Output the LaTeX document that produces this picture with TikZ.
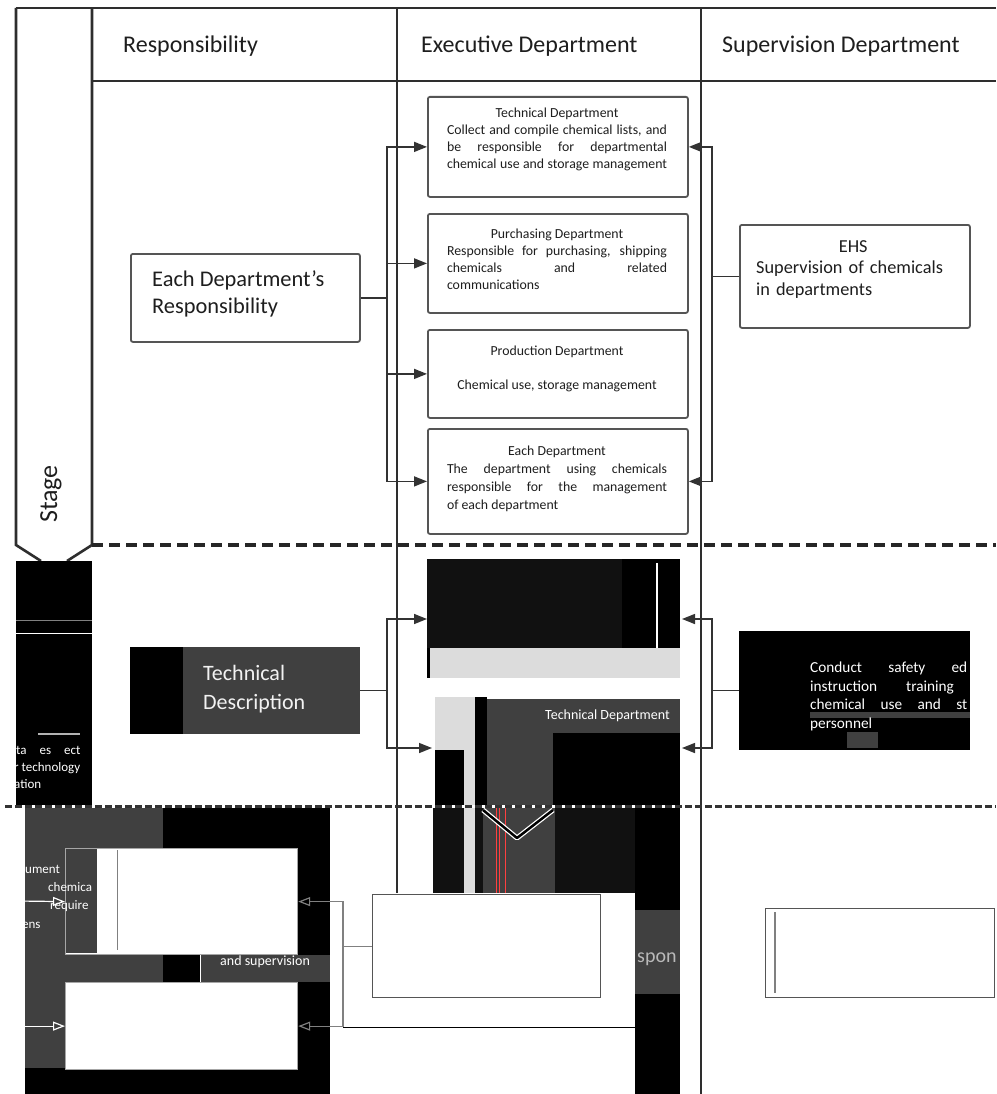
\documentclass[tikz,border=0pt]{standalone}
\usepackage{fontspec}
\setmainfont{Carlito}
\usetikzlibrary{arrows.meta, positioning, calc}
\definecolor{colgray}{HTML}{2E2E2E}
\definecolor{boxgray}{HTML}{555555}
\definecolor{linegray}{HTML}{333333}
\definecolor{txtgray}{HTML}{1E1E1E}
\definecolor{dkfill}{HTML}{404040}
\definecolor{nearblk}{HTML}{111111}
\definecolor{ltfill}{HTML}{DCDCDC}

\begin{document}
\begin{tikzpicture}[x=1pt, y=-1pt,
    col/.style={draw=colgray, line width=2.6pt},
    dept/.style={draw=boxgray, line width=1.8pt, rounded corners=2pt, fill=white, inner sep=0pt, minimum width=260pt, anchor=north west},
    dtext/.style={text width=220pt, align=justify, inner sep=0pt, anchor=north, text=txtgray, font=\fontsize{13.8}{17}\selectfont},
    head/.style={anchor=base west, inner sep=0pt, text=txtgray, font=\fontsize{24}{28}\selectfont},
    patch/.style={draw=none, inner sep=0pt, anchor=north west},
    frag/.style={anchor=base west, inner sep=0pt, text=white, font=\fontsize{13}{15}\selectfont},
    link/.style={draw=linegray, line width=1.5pt},
    arr/.style={link, -{Triangle[length=13pt, width=10pt]}},
    oarr/.style={draw=gray, line width=1.2pt, -{Triangle[open, length=12pt, width=9pt]}},
    warr/.style={draw=white, line width=1.2pt, -{Triangle[open, length=12pt, width=9pt]}},
    stagesep/.style={draw=black!85, line width=4pt, dash pattern=on 11pt off 6pt},
    glitchline/.style={draw=black!80, line width=3pt, dash pattern=on 7pt off 3pt}
]
\useasboundingbox (0,0) rectangle (996,1094);
\fill[white] (0,0) rectangle (996,1094);

\draw[col] (16,8) -- (996,8);
\draw[col] (16,8) -- (16,545) -- (41,561);
\draw[col] (92,8) -- (92,545) -- (67,561);
\draw[col] (397,8) -- (397,893);
\draw[col] (701,8) -- (701,1094);
\draw[draw=colgray, line width=1.8pt] (92,81) -- (996,81);

\node[head] (hresp) at (123,53) {Responsibility};
\node[head] (hexec) at (421,53) {Executive Department};
\node[head] (hsup) at (722,53) {Supervision Department};
\node[rotate=90, inner sep=0pt, text=txtgray, font=\fontsize{26}{30}\selectfont] (stage) at (51,494) {Stage};

\coordinate (busL) at (387,146);
\coordinate (busR) at (712,146);

\node[dept, minimum width=229pt, minimum height=88pt] (resp) at (130,253) {};
\node[anchor=west, align=left, inner sep=0pt, text=txtgray, font=\fontsize{22.4}{27}\selectfont] (resptxt) at (152,294) {Each Department’s\\Responsibility};

\node[dept, minimum height=100pt] (tech) at (427,96) {};
\node[dept, minimum height=99pt] (purch) at (427,213) {};
\node[dept, minimum height=88pt] (prod) at (427,329) {};
\node[dept, minimum height=105pt] (each) at (427,428) {};

\node[dtext] (techtxt) at (557,108) {\makebox[220pt]{Technical Department}\\ Collect and compile chemical lists, and\linebreak be responsible for departmental\linebreak \makebox[220pt][s]{chemical use and storage management}};
\node[dtext] (purchtxt) at (557,229) {\makebox[220pt]{Purchasing Department}\\ Responsible for purchasing, shipping\linebreak chemicals and related\linebreak communications};
\node[dtext] (prodtxt) at (557,346) {\makebox[220pt]{Production Department}\\ \mbox{}\\ \makebox[220pt]{Chemical use, storage management}};
\node[dtext, font=\fontsize{13.8}{18}\selectfont] (eachtxt) at (557,446) {\makebox[220pt]{Each Department}\\ The department using chemicals\linebreak responsible for the management\linebreak of each department};

\node[dept, minimum width=230pt, minimum height=103pt] (ehs) at (739,224) {};
\node[anchor=north west, text width=194pt, align=left, inner sep=0pt, text=txtgray, font=\fontsize{18.3}{21.5}\selectfont] (ehstxt) at (756,240) {\makebox[194pt]{EHS}\\ Supervision of chemicals\\ in departments};

\foreach \t in {tech,purch,prod,each}
  \draw[arr] (resp.east) -- (resp.east -| busL) |- (\t.west);
\foreach \t in {tech,each}
  \draw[arr] (ehs.west) -- (ehs.west -| busR) |- (\t.east);

\draw[stagesep] (92,545) -- (996,545);

\fill[black] (16,561) rectangle (92,805);
\draw[gray, line width=1pt] (16,620) -- (92,620);
\draw[white, line width=1pt] (16,633) -- (92,633);
\draw[gray!60, line width=2pt] (38,734) -- (80,734);
\begin{scope}
  \clip (16,561) rectangle (92,805);
  \node[frag] (fa) at (16,754) {ta\quad es\quad ect};
  \node[frag] (fb) at (14,771) {r technology};
  \node[frag] (fc) at (14,788) {ation};
\end{scope}

\node[patch, fill=dkfill, minimum width=230pt, minimum height=87pt] (tdesc) at (130,647) {};
\fill[black] (130,647) rectangle (183,734);
\node[anchor=west, align=left, inner sep=0pt, text=white!90!gray, font=\fontsize{22}{29}\selectfont] (tdesctxt) at (203,689) {Technical\\Description};

\node[patch, fill=nearblk, minimum width=253pt, minimum height=89pt] (boxa) at (427,559) {};
\fill[black] (622,559) rectangle (680,648);
\draw[white, line width=1.5pt] (657,563) -- (657,648);
\fill[ltfill] (427,648) rectangle (680,678);
\fill[black] (427,648) rectangle (430,678);
\fill[ltfill] (435,697) rectangle (475,805);
\fill[black] (435,750) rectangle (464,805);
\fill[black] (475,697) rectangle (487,805);
\node[patch, fill=dkfill, minimum width=193pt, minimum height=106pt] (boxb) at (487,699) {};
\fill[black] (553,733) rectangle (680,805);
\node[anchor=base west, inner sep=0pt, text=white, font=\fontsize{14}{17}\selectfont] (boxbtxt) at (545,719) {Technical Department};

\node[patch, fill=black, minimum width=231pt, minimum height=119pt] (ehsb) at (739,631) {};
\fill[dkfill] (810,712) rectangle (970,718);
\fill[dkfill] (847,732) rectangle (878,748);
\node[anchor=north west, align=left, inner sep=0pt, text=white, font=\fontsize{15.3}{18.5}\selectfont] (ehsbtxt) at (810,662) {\makebox[157pt][s]{Conduct safety ed}\\instruction\hspace{29pt}training\\\makebox[157pt][s]{chemical use and st}\\personnel};

\coordinate (ina) at (427,619);
\coordinate (inb) at (432,748);
\coordinate (outa) at (682,619);
\coordinate (outb) at (682,748);
\foreach \t in {ina,inb}
  \draw[arr] (tdesc.east) -- (tdesc.east -| busL) |- (\t);
\foreach \t in {outa,outb}
  \draw[arr] (ehsb.west) -- (ehsb.west -| busR) |- (\t);

\draw[glitchline] (5,806) -- (996,806);

\fill[black] (25,808) rectangle (330,1094);
\fill[dkfill] (25,808) rectangle (163,1068);
\fill[dkfill] (200,955) rectangle (330,982);
\draw[white, line width=1pt] (200,954) -- (200,982);
\node[anchor=base west, inner sep=0pt, text=white, font=\fontsize{14}{17}\selectfont] (supfrag) at (220,965) {and supervision};

\node[patch, draw=gray!70, line width=1.2pt, fill=white, minimum width=232pt, minimum height=106pt] (bone) at (65,848) {};
\fill[dkfill] (66,849) rectangle (97,953);
\draw[gray, line width=1pt] (117,850) -- (117,950);
\node[patch, draw=gray!70, line width=1.2pt, fill=white, minimum width=232pt, minimum height=87pt] (btwo) at (65,982) {};
\begin{scope}
  \clip (16,808) rectangle (97,954);
  \node[frag] (fd) at (25,873) {ument};
  \node[frag] (fe) at (48,891) {chemica};
  \node[frag] (ff) at (50,909) {require};
  \node[frag] (fg) at (22,928) {ens};
\end{scope}

\fill[nearblk] (433,808) rectangle (635,893);
\fill[black] (635,808) rectangle (680,1094);
\fill[dkfill] (635,910) rectangle (680,994);
\fill[ltfill] (464,808) rectangle (475,893);
\fill[dkfill] (483,808) rectangle (555,893);
\foreach \x in {496,499,505}
  \draw[red!75, line width=0.8pt] (\x,808) -- (\x,893);
\draw[white, line width=5pt, line join=round] (483,810) -- (517,838) -- (553,810);
\draw[black, line width=2.5pt, line join=round] (483,810) -- (517,838) -- (553,810);
\node[anchor=base west, inner sep=0pt, text=gray!55, font=\fontsize{20}{24}\selectfont] (sponfrag) at (637,962) {spon};

\node[patch, draw=boxgray, line width=1.2pt, fill=white, minimum width=228pt, minimum height=103pt] (bbig) at (372,894) {};
\node[patch, draw=boxgray, line width=1.2pt, minimum width=229pt, minimum height=89pt] (bright) at (765,908) {};
\draw[gray, line width=1.5pt] (775,912) -- (775,993);

\coordinate (busB) at (343,901);
\coordinate (lbus) at (18,901);
\draw[black, line width=0.8pt] (343,1027) -- (635,1027);
\foreach \t in {bone,btwo}
  \draw[oarr] (bbig.west) -- (bbig.west -| busB) |- (\t.east);
\draw[warr] (lbus) -- (bone.west);
\draw[warr] (lbus) |- (btwo.west);
\end{tikzpicture}
\end{document}
